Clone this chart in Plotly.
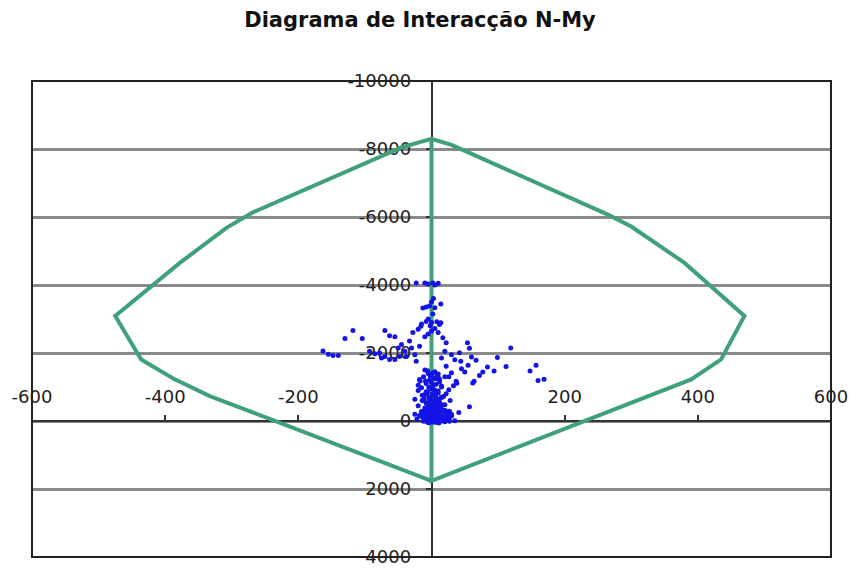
import plotly.graph_objects as go

# Interaction envelope (My, N) — closed outline plus the vertical N axis segment
env_my = [0, -333, -388, -436, -475, -378, -308, -270, -45, 0,
          30, 265, 300, 380, 470, 435, 390, 0, 0]
env_n = [1760, -734, -1250, -1810, -3090, -4650, -5680, -6120, -8050, -8300,
         -8120, -6070, -5720, -4650, -3090, -1810, -1224, 1760, -8300]

# Design load pairs (My, N)
load_my = [
    -23, -10, -5, 2, 10, 5,
    3, 0, -8, -3, 5, 14, -13, 2, -5, 0, 8, 14, -2, -15, -20, -16, -8, -28, 5, 0, -5, 12, 17, 22, 10, -10,
    -163, -155, -148, -140, -130, -118, -104, -93, -85, -78, -70, -63, -55, -45, -33, -63, -55, -48, -38,
    -25, -23, -70, -40, -30, -18, -50, -75,
    54, 57, 42, 119, 99, 67, 84, 112, 157, 148, 160, 169, 94, 77, 72, 64, 37, 30, 62, 44, 35, 55, 50,
    22, 30, 20, 15, 26, 45, 60,
    27, 41, 57,
    -18, -25, -20, -10, -5, 0, 5, 10, -12, 8, -3, 12, -8, 3, 15, -15, 0, 6, -6, 10, -10, 2, 18, -4, 8,
    -14, 0, 12, -8, 4, 20, -20, -2, 10, -10, 5, 15, -5, 0, -15, 8, 22, -8, 3, 13, -18, -3, 7, 18, -10,
    0, 10, 25, -6, 4, 15, 27, -12, 0, 8, -4, 20, 35, -22, -25, 30, 28, -20, 20,
    -6, 2, 9, -2, 5, 12, -9, 0, 7, 15, -4, 3, 10, -7, 1, 6, 14, -3, 4, 11,
    -8, -1, 5, 13, -5, 2, 8, 17, -10, 0, 6, 12, -3, 4, 9, 16, -6, 1, 7, 21,
    -2, 3, 10, -7, 0, 5, 11, 18, -4, 2, 8, 14, -9, -1, 6, 24, 3, 9, -5, 12,
    -12, -6, 0, 6, 12, 18, 24, -15, -9, -3, 3, 9, 15, 21, 27, -12, -6, 0, 6, 12,
    18, 24, 30, -15, -9, -3, 3, 9, 15, 21, -10, -4, 2, 8, 14, 20, -7, -1, 5, 11,
    17, -5, 1, 7, 13, -3, 3, 9, -11, 16, -14, 22, -8, 26, -2, 33, 38, -17, 4, 10,
]
load_n = [
    -4060, -4060, -4030, -4060, -4050, -4000,
    -3600, -3500, -3350, -3380, -3330, -3440, -3320, -3150, -3000, -2900, -2920, -2890, -2800, -2850,
    -2700, -2790, -2930, -2600, -2720, -2650, -2560, -2840, -2450, -2300, -2600, -2480,
    -2060, -1960, -1930, -1930, -2430, -2660, -2430, -2050, -1980, -2000, -2660, -2510, -2480, -2250,
    -2350, -1810, -1810, -1900, -1900, -1950, -1760, -1900, -2050, -2150, -2200, -2150, -1850,
    -2300, -2140, -2010, -2150, -1870, -1790, -1590, -1600, -1640, -1470, -1190, -1225, -1470, -1440,
    -1340, -1170, -1170, -1420, -1120, -1760, -1800, -1640, -1440,
    -1610, -1950, -2050, -1850, -1300, -1540, -1880,
    -290, -250, -420,
    -1220, -640, -900, -1500, -1400, -1350, -1450, -1380, -1300, -1250, -1200, -1150, -1100, -1050,
    -1000, -980, -950, -900, -850, -820, -780, -750, -720, -700, -650, -600, -580, -560, -520, -500,
    -480, -450, -430, -410, -380, -360, -340, -320, -300, -280, -260, -240, -220, -200, -180, -160,
    -140, -120, -100, -90, -70, -50, -40, -30, -10, 0, 5, 10, 20, 35, 50, 25, -5, -60, -200, -150,
    -600, -1050, -1300,
    -1480, -1420, -1360, -1320, -1270, -1230, -1180, -1130, -1080, -1030, -990, -930, -880, -840, -790,
    -740, -690, -660, -610, -570,
    -540, -510, -470, -440, -400, -370, -350, -310, -290, -270, -250, -230, -210, -190, -170, -130,
    -110, -80, -60, -45,
    -20, -15, 0, 15, 30, 40, 60, -35, -55, -75, -95, -115, -135, -155, -175, -195, -215, -65, 45, -25,
    -80, -90, -70, -85, -75, -95, -65, -130, -140, -120, -135, -125, -145, -115, -105, -190, -180, -200,
    -170, -185,
    -210, -230, -195, -250, -240, -260, -245, -235, -280, -300, -330, -350, -320, -340, -360, -310, -400,
    -420, -380, -440,
    -470, -500, -530, -490, -510, -560, -590, -620, -650, -700, -760, -800, -860, -920, -980, -1040,
    -1110, -1180, -1240, -1290,
]

x_ticks = [-600, -400, -200, 0, 200, 400, 600]
y_ticks = [-10000, -8000, -6000, -4000, -2000, 0, 2000, 4000]

fig = go.Figure()

fig.add_trace(go.Scatter(
    x=env_my, y=env_n, mode="lines",
    line=dict(color="#40a07a", width=4),
    hoverinfo="skip", showlegend=False,
))

fig.add_trace(go.Scatter(
    x=load_my, y=load_n, mode="markers",
    marker=dict(color="#1414e6", size=5, symbol="circle", line=dict(width=0)),
    showlegend=False,
))

tick_font = dict(family="DejaVu Sans", size=18, color="#222222")

fig.update_layout(
    width=851, height=571,
    margin=dict(l=32, r=20, t=81, b=14),
    paper_bgcolor="white", plot_bgcolor="white",
    title=dict(
        text="Diagrama de Interacção N-My",
        font=dict(family="DejaVu Sans", size=21, color="#111111", weight="bold"),
        x=420 / 851, xref="container", xanchor="center",
        y=1 - 20 / 571, yref="container", yanchor="middle",
    ),
    xaxis=dict(
        range=[-600, 600], tickvals=x_ticks, ticktext=[str(v) for v in x_ticks],
        showgrid=False, zeroline=False, automargin=False,
        showline=True, linecolor="#333333", linewidth=1.5,
        ticks="outside", ticklen=5, tickwidth=1.5, tickcolor="#333333",
        side="top", anchor="free", position=4000 / 14000,
        ticklabelstandoff=5, layer="below traces",
        tickfont=tick_font,
    ),
    yaxis=dict(
        range=[4000, -10000], tickvals=y_ticks, ticktext=[str(v) for v in y_ticks],
        showgrid=True, gridcolor="#8a8a8a", gridwidth=2.5,
        zeroline=False, automargin=False,
        showline=True, linecolor="#333333", linewidth=1.5,
        ticks="outside", ticklen=5, tickwidth=1.5, tickcolor="#333333",
        anchor="free", position=0.5, side="left",
        ticklabelstandoff=11, layer="below traces",
        tickfont=tick_font,
    ),
    shapes=[dict(
        type="rect", xref="paper", yref="paper", x0=0, x1=1, y0=0, y1=1,
        line=dict(color="#222222", width=2), layer="above",
    )],
)

fig.write_html("out.html")
